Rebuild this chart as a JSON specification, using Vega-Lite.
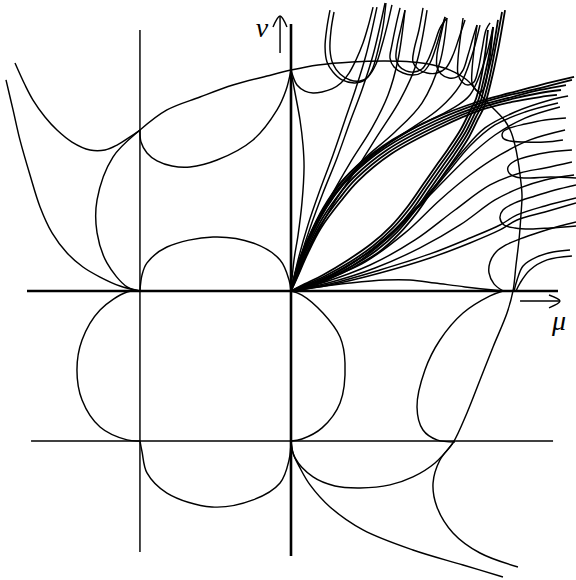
{
  "$schema": "https://vega.github.io/schema/vega-lite/v6.json",
  "width": 576,
  "height": 580,
  "padding": 0,
  "autosize": {"type": "fit", "contains": "padding"},
  "config": {"view": {"stroke": null}},
  "datasets": {
    "axes": [
      {"c": "mu-axis", "mu": -1.76, "nu": 0}, {"c": "mu-axis", "mu": 1.78, "nu": 0},
      {"c": "nu-axis", "mu": 0, "nu": 1.78}, {"c": "nu-axis", "mu": 0, "nu": -1.767}
    ],
    "bands": [
      {"c": "B1a", "mu": 0, "nu": 0}, {"c": "B1a", "mu": 0.033, "nu": 0.107}, {"c": "B1a", "mu": 0.093, "nu": 0.273}, {"c": "B1a", "mu": 0.18, "nu": 0.46}, {"c": "B1a", "mu": 0.293, "nu": 0.64}, {"c": "B1a", "mu": 0.407, "nu": 0.773}, {"c": "B1a", "mu": 0.627, "nu": 0.953}, {"c": "B1a", "mu": 0.96, "nu": 1.133}, {"c": "B1a", "mu": 1.247, "nu": 1.247}, {"c": "B1a", "mu": 1.46, "nu": 1.307}, {"c": "B1a", "mu": 1.66, "nu": 1.353}, {"c": "B1a", "mu": 1.873, "nu": 1.407},
      {"c": "B1b", "mu": 0, "nu": 0}, {"c": "B1b", "mu": 0.033, "nu": 0.1}, {"c": "B1b", "mu": 0.1, "nu": 0.267}, {"c": "B1b", "mu": 0.187, "nu": 0.447}, {"c": "B1b", "mu": 0.307, "nu": 0.627}, {"c": "B1b", "mu": 0.42, "nu": 0.76}, {"c": "B1b", "mu": 0.64, "nu": 0.94}, {"c": "B1b", "mu": 0.973, "nu": 1.12}, {"c": "B1b", "mu": 1.253, "nu": 1.233}, {"c": "B1b", "mu": 1.473, "nu": 1.293}, {"c": "B1b", "mu": 1.66, "nu": 1.34}, {"c": "B1b", "mu": 1.833, "nu": 1.373},
      {"c": "B1c", "mu": 0, "nu": 0}, {"c": "B1c", "mu": 0.04, "nu": 0.093}, {"c": "B1c", "mu": 0.107, "nu": 0.26}, {"c": "B1c", "mu": 0.193, "nu": 0.433}, {"c": "B1c", "mu": 0.32, "nu": 0.613}, {"c": "B1c", "mu": 0.433, "nu": 0.747}, {"c": "B1c", "mu": 0.653, "nu": 0.927}, {"c": "B1c", "mu": 0.987, "nu": 1.107}, {"c": "B1c", "mu": 1.26, "nu": 1.22}, {"c": "B1c", "mu": 1.473, "nu": 1.28}, {"c": "B1c", "mu": 1.66, "nu": 1.32}, {"c": "B1c", "mu": 1.8, "nu": 1.34},
      {"c": "B1d", "mu": 0, "nu": 0}, {"c": "B1d", "mu": 0.04, "nu": 0.087}, {"c": "B1d", "mu": 0.113, "nu": 0.253}, {"c": "B1d", "mu": 0.2, "nu": 0.42}, {"c": "B1d", "mu": 0.333, "nu": 0.6}, {"c": "B1d", "mu": 0.447, "nu": 0.733}, {"c": "B1d", "mu": 0.667, "nu": 0.913}, {"c": "B1d", "mu": 1.0, "nu": 1.093}, {"c": "B1d", "mu": 1.267, "nu": 1.207}, {"c": "B1d", "mu": 1.473, "nu": 1.26}, {"c": "B1d", "mu": 1.66, "nu": 1.293}, {"c": "B1d", "mu": 1.773, "nu": 1.307},
      {"c": "B1e", "mu": 0, "nu": 0}, {"c": "B1e", "mu": 0.027, "nu": 0.113}, {"c": "B1e", "mu": 0.087, "nu": 0.28}, {"c": "B1e", "mu": 0.173, "nu": 0.467}, {"c": "B1e", "mu": 0.28, "nu": 0.647}, {"c": "B1e", "mu": 0.393, "nu": 0.787}, {"c": "B1e", "mu": 0.613, "nu": 0.967}, {"c": "B1e", "mu": 0.947, "nu": 1.147}, {"c": "B1e", "mu": 1.24, "nu": 1.26}, {"c": "B1e", "mu": 1.46, "nu": 1.32}, {"c": "B1e", "mu": 1.66, "nu": 1.373}, {"c": "B1e", "mu": 1.887, "nu": 1.427},

      {"c": "B2a", "mu": 0, "nu": 0}, {"c": "B2a", "mu": 0.093, "nu": 0.033}, {"c": "B2a", "mu": 0.227, "nu": 0.087}, {"c": "B2a", "mu": 0.407, "nu": 0.187}, {"c": "B2a", "mu": 0.56, "nu": 0.287}, {"c": "B2a", "mu": 0.693, "nu": 0.407}, {"c": "B2a", "mu": 0.807, "nu": 0.54}, {"c": "B2a", "mu": 0.913, "nu": 0.693}, {"c": "B2a", "mu": 1.007, "nu": 0.827}, {"c": "B2a", "mu": 1.073, "nu": 0.92}, {"c": "B2a", "mu": 1.16, "nu": 1.053}, {"c": "B2a", "mu": 1.22, "nu": 1.173}, {"c": "B2a", "mu": 1.26, "nu": 1.253}, {"c": "B2a", "mu": 1.3, "nu": 1.407}, {"c": "B2a", "mu": 1.34, "nu": 1.573}, {"c": "B2a", "mu": 1.38, "nu": 1.807},
      {"c": "B2b", "mu": 0, "nu": 0}, {"c": "B2b", "mu": 0.093, "nu": 0.04}, {"c": "B2b", "mu": 0.227, "nu": 0.1}, {"c": "B2b", "mu": 0.393, "nu": 0.193}, {"c": "B2b", "mu": 0.547, "nu": 0.3}, {"c": "B2b", "mu": 0.68, "nu": 0.42}, {"c": "B2b", "mu": 0.793, "nu": 0.553}, {"c": "B2b", "mu": 0.9, "nu": 0.707}, {"c": "B2b", "mu": 0.993, "nu": 0.84}, {"c": "B2b", "mu": 1.06, "nu": 0.933}, {"c": "B2b", "mu": 1.147, "nu": 1.067}, {"c": "B2b", "mu": 1.207, "nu": 1.187}, {"c": "B2b", "mu": 1.247, "nu": 1.267}, {"c": "B2b", "mu": 1.287, "nu": 1.42}, {"c": "B2b", "mu": 1.32, "nu": 1.573}, {"c": "B2b", "mu": 1.347, "nu": 1.76},
      {"c": "B2c", "mu": 0, "nu": 0}, {"c": "B2c", "mu": 0.093, "nu": 0.047}, {"c": "B2c", "mu": 0.213, "nu": 0.107}, {"c": "B2c", "mu": 0.38, "nu": 0.207}, {"c": "B2c", "mu": 0.533, "nu": 0.313}, {"c": "B2c", "mu": 0.667, "nu": 0.433}, {"c": "B2c", "mu": 0.78, "nu": 0.567}, {"c": "B2c", "mu": 0.887, "nu": 0.72}, {"c": "B2c", "mu": 0.98, "nu": 0.853}, {"c": "B2c", "mu": 1.047, "nu": 0.947}, {"c": "B2c", "mu": 1.133, "nu": 1.08}, {"c": "B2c", "mu": 1.193, "nu": 1.2}, {"c": "B2c", "mu": 1.233, "nu": 1.28}, {"c": "B2c", "mu": 1.267, "nu": 1.42}, {"c": "B2c", "mu": 1.293, "nu": 1.573}, {"c": "B2c", "mu": 1.313, "nu": 1.74},
      {"c": "B2d", "mu": 0, "nu": 0}, {"c": "B2d", "mu": 0.1, "nu": 0.027}, {"c": "B2d", "mu": 0.233, "nu": 0.08}, {"c": "B2d", "mu": 0.42, "nu": 0.173}, {"c": "B2d", "mu": 0.573, "nu": 0.273}, {"c": "B2d", "mu": 0.707, "nu": 0.393}, {"c": "B2d", "mu": 0.82, "nu": 0.527}, {"c": "B2d", "mu": 0.927, "nu": 0.68}, {"c": "B2d", "mu": 1.02, "nu": 0.813}, {"c": "B2d", "mu": 1.087, "nu": 0.907}, {"c": "B2d", "mu": 1.173, "nu": 1.04}, {"c": "B2d", "mu": 1.233, "nu": 1.16}, {"c": "B2d", "mu": 1.273, "nu": 1.24}, {"c": "B2d", "mu": 1.32, "nu": 1.407}, {"c": "B2d", "mu": 1.36, "nu": 1.607}, {"c": "B2d", "mu": 1.407, "nu": 1.86},
      {"c": "B2e", "mu": 0, "nu": 0}, {"c": "B2e", "mu": 0.1, "nu": 0.02}, {"c": "B2e", "mu": 0.24, "nu": 0.073}, {"c": "B2e", "mu": 0.433, "nu": 0.167}, {"c": "B2e", "mu": 0.587, "nu": 0.26}, {"c": "B2e", "mu": 0.72, "nu": 0.38}, {"c": "B2e", "mu": 0.833, "nu": 0.513}, {"c": "B2e", "mu": 0.94, "nu": 0.667}, {"c": "B2e", "mu": 1.033, "nu": 0.8}, {"c": "B2e", "mu": 1.1, "nu": 0.893}, {"c": "B2e", "mu": 1.187, "nu": 1.027}, {"c": "B2e", "mu": 1.247, "nu": 1.147}, {"c": "B2e", "mu": 1.287, "nu": 1.227}, {"c": "B2e", "mu": 1.333, "nu": 1.393}, {"c": "B2e", "mu": 1.38, "nu": 1.607}, {"c": "B2e", "mu": 1.427, "nu": 1.873}
    ],
    "curves": [
      {"c": "L1", "mu": -1.007, "nu": 1.74}, {"c": "L1", "mu": -1.007, "nu": -1.74},
      {"c": "L2", "mu": -1.733, "nu": -1.0}, {"c": "L2", "mu": 1.747, "nu": -1.0},

      {"c": "nuArrow", "mu": -0.073, "nu": 1.587}, {"c": "nuArrow", "mu": -0.073, "nu": 1.833},
      {"c": "nuHead", "mu": -0.12, "nu": 1.76}, {"c": "nuHead", "mu": -0.073, "nu": 1.833}, {"c": "nuHead", "mu": -0.027, "nu": 1.76},
      {"c": "muArrow", "mu": 1.527, "nu": -0.067}, {"c": "muArrow", "mu": 1.793, "nu": -0.067},
      {"c": "muHead", "mu": 1.72, "nu": -0.027}, {"c": "muHead", "mu": 1.793, "nu": -0.067}, {"c": "muHead", "mu": 1.72, "nu": -0.113},

      {"c": "C1", "mu": -1.007, "nu": 0}, {"c": "C1", "mu": -1.093, "nu": -0.007}, {"c": "C1", "mu": -1.273, "nu": -0.127}, {"c": "C1", "mu": -1.393, "nu": -0.327}, {"c": "C1", "mu": -1.427, "nu": -0.527}, {"c": "C1", "mu": -1.393, "nu": -0.727}, {"c": "C1", "mu": -1.273, "nu": -0.907}, {"c": "C1", "mu": -1.093, "nu": -0.993}, {"c": "C1", "mu": -1.007, "nu": -1.0},

      {"c": "C2", "mu": -1.007, "nu": -1.0}, {"c": "C2", "mu": -0.993, "nu": -1.073}, {"c": "C2", "mu": -0.96, "nu": -1.213}, {"c": "C2", "mu": -0.827, "nu": -1.347}, {"c": "C2", "mu": -0.527, "nu": -1.44}, {"c": "C2", "mu": -0.253, "nu": -1.393}, {"c": "C2", "mu": -0.073, "nu": -1.28}, {"c": "C2", "mu": -0.013, "nu": -1.127}, {"c": "C2", "mu": 0, "nu": -1.0},

      {"c": "C3", "mu": -1.007, "nu": 0}, {"c": "C3", "mu": -0.993, "nu": 0.107}, {"c": "C3", "mu": -0.96, "nu": 0.187}, {"c": "C3", "mu": -0.827, "nu": 0.293}, {"c": "C3", "mu": -0.52, "nu": 0.36}, {"c": "C3", "mu": -0.253, "nu": 0.32}, {"c": "C3", "mu": -0.073, "nu": 0.207}, {"c": "C3", "mu": -0.013, "nu": 0.073}, {"c": "C3", "mu": 0, "nu": 0},

      {"c": "C4", "mu": 0, "nu": 0}, {"c": "C4", "mu": 0.073, "nu": -0.027}, {"c": "C4", "mu": 0.213, "nu": -0.147}, {"c": "C4", "mu": 0.327, "nu": -0.307}, {"c": "C4", "mu": 0.36, "nu": -0.48}, {"c": "C4", "mu": 0.327, "nu": -0.747}, {"c": "C4", "mu": 0.207, "nu": -0.913}, {"c": "C4", "mu": 0.073, "nu": -0.987}, {"c": "C4", "mu": 0, "nu": -1.0},

      {"c": "C5", "mu": 1.413, "nu": 0}, {"c": "C5", "mu": 1.327, "nu": -0.033}, {"c": "C5", "mu": 1.147, "nu": -0.147}, {"c": "C5", "mu": 0.993, "nu": -0.327}, {"c": "C5", "mu": 0.893, "nu": -0.527}, {"c": "C5", "mu": 0.84, "nu": -0.773}, {"c": "C5", "mu": 0.88, "nu": -0.927}, {"c": "C5", "mu": 0.973, "nu": -0.993}, {"c": "C5", "mu": 1.093, "nu": -1.007},

      {"c": "C6", "mu": -1.007, "nu": 0}, {"c": "C6", "mu": -1.093, "nu": 0.027}, {"c": "C6", "mu": -1.227, "nu": 0.187}, {"c": "C6", "mu": -1.293, "nu": 0.387}, {"c": "C6", "mu": -1.293, "nu": 0.607}, {"c": "C6", "mu": -1.187, "nu": 0.893}, {"c": "C6", "mu": -1.007, "nu": 1.073}, {"c": "C6", "mu": -0.827, "nu": 1.207}, {"c": "C6", "mu": -0.607, "nu": 1.293}, {"c": "C6", "mu": -0.387, "nu": 1.373}, {"c": "C6", "mu": -0.16, "nu": 1.433}, {"c": "C6", "mu": 0, "nu": 1.473}, {"c": "C6", "mu": 0.18, "nu": 1.507}, {"c": "C6", "mu": 0.407, "nu": 1.527}, {"c": "C6", "mu": 0.627, "nu": 1.533}, {"c": "C6", "mu": 0.807, "nu": 1.527}, {"c": "C6", "mu": 0.947, "nu": 1.507}, {"c": "C6", "mu": 1.06, "nu": 1.473}, {"c": "C6", "mu": 1.173, "nu": 1.407}, {"c": "C6", "mu": 1.24, "nu": 1.333}, {"c": "C6", "mu": 1.307, "nu": 1.26}, {"c": "C6", "mu": 1.373, "nu": 1.193}, {"c": "C6", "mu": 1.427, "nu": 1.133}, {"c": "C6", "mu": 1.467, "nu": 1.06}, {"c": "C6", "mu": 1.493, "nu": 0.973}, {"c": "C6", "mu": 1.513, "nu": 0.873}, {"c": "C6", "mu": 1.527, "nu": 0.773}, {"c": "C6", "mu": 1.54, "nu": 0.64}, {"c": "C6", "mu": 1.533, "nu": 0.507}, {"c": "C6", "mu": 1.52, "nu": 0.34}, {"c": "C6", "mu": 1.5, "nu": 0.173}, {"c": "C6", "mu": 1.48, "nu": 0}, {"c": "C6", "mu": 1.44, "nu": -0.147}, {"c": "C6", "mu": 1.347, "nu": -0.373}, {"c": "C6", "mu": 1.26, "nu": -0.593}, {"c": "C6", "mu": 1.173, "nu": -0.813}, {"c": "C6", "mu": 1.08, "nu": -1.013}, {"c": "C6", "mu": 0.993, "nu": -1.127}, {"c": "C6", "mu": 0.947, "nu": -1.28}, {"c": "C6", "mu": 0.973, "nu": -1.44}, {"c": "C6", "mu": 1.08, "nu": -1.613}, {"c": "C6", "mu": 1.26, "nu": -1.747}, {"c": "C6", "mu": 1.513, "nu": -1.84},

      {"c": "C7", "mu": 0, "nu": -1.0}, {"c": "C7", "mu": 0.013, "nu": -1.08}, {"c": "C7", "mu": 0.06, "nu": -1.18}, {"c": "C7", "mu": 0.127, "nu": -1.293}, {"c": "C7", "mu": 0.26, "nu": -1.44}, {"c": "C7", "mu": 0.48, "nu": -1.593}, {"c": "C7", "mu": 0.813, "nu": -1.727}, {"c": "C7", "mu": 1.147, "nu": -1.827}, {"c": "C7", "mu": 1.413, "nu": -1.907},

      {"c": "C8", "mu": 0, "nu": -1.0}, {"c": "C8", "mu": 0.027, "nu": -1.113}, {"c": "C8", "mu": 0.147, "nu": -1.24}, {"c": "C8", "mu": 0.293, "nu": -1.3}, {"c": "C8", "mu": 0.46, "nu": -1.313}, {"c": "C8", "mu": 0.66, "nu": -1.293}, {"c": "C8", "mu": 0.813, "nu": -1.24}, {"c": "C8", "mu": 0.96, "nu": -1.147}, {"c": "C8", "mu": 1.08, "nu": -1.013},

      {"c": "C9", "mu": -1.84, "nu": 1.52}, {"c": "C9", "mu": -1.773, "nu": 1.373}, {"c": "C9", "mu": -1.72, "nu": 1.273}, {"c": "C9", "mu": -1.64, "nu": 1.16}, {"c": "C9", "mu": -1.56, "nu": 1.073}, {"c": "C9", "mu": -1.46, "nu": 0.993}, {"c": "C9", "mu": -1.34, "nu": 0.94}, {"c": "C9", "mu": -1.24, "nu": 0.94}, {"c": "C9", "mu": -1.16, "nu": 0.973}, {"c": "C9", "mu": -1.073, "nu": 1.027}, {"c": "C9", "mu": -1.007, "nu": 1.073},

      {"c": "C10", "mu": -1.9, "nu": 1.407}, {"c": "C10", "mu": -1.853, "nu": 1.207}, {"c": "C10", "mu": -1.807, "nu": 1.007}, {"c": "C10", "mu": -1.74, "nu": 0.773}, {"c": "C10", "mu": -1.673, "nu": 0.56}, {"c": "C10", "mu": -1.593, "nu": 0.387}, {"c": "C10", "mu": -1.493, "nu": 0.253}, {"c": "C10", "mu": -1.387, "nu": 0.16}, {"c": "C10", "mu": -1.273, "nu": 0.093}, {"c": "C10", "mu": -1.14, "nu": 0.033}, {"c": "C10", "mu": -1.007, "nu": 0},

      {"c": "C11", "mu": -1.007, "nu": 1.073}, {"c": "C11", "mu": -1.0, "nu": 0.993}, {"c": "C11", "mu": -0.96, "nu": 0.92}, {"c": "C11", "mu": -0.893, "nu": 0.867}, {"c": "C11", "mu": -0.793, "nu": 0.833}, {"c": "C11", "mu": -0.673, "nu": 0.827}, {"c": "C11", "mu": -0.493, "nu": 0.873}, {"c": "C11", "mu": -0.253, "nu": 1.007}, {"c": "C11", "mu": -0.093, "nu": 1.207}, {"c": "C11", "mu": -0.033, "nu": 1.34}, {"c": "C11", "mu": 0, "nu": 1.473},

      {"c": "C12", "mu": 0, "nu": 1.46}, {"c": "C12", "mu": 0.027, "nu": 1.32}, {"c": "C12", "mu": 0.06, "nu": 1.14}, {"c": "C12", "mu": 0.08, "nu": 0.973}, {"c": "C12", "mu": 0.087, "nu": 0.827}, {"c": "C12", "mu": 0.073, "nu": 0.587}, {"c": "C12", "mu": 0.047, "nu": 0.373}, {"c": "C12", "mu": 0.02, "nu": 0.207}, {"c": "C12", "mu": 0, "nu": 0},

      {"c": "F1", "mu": 0, "nu": 0}, {"c": "F1", "mu": 0.047, "nu": 0.207}, {"c": "F1", "mu": 0.113, "nu": 0.44}, {"c": "F1", "mu": 0.193, "nu": 0.673}, {"c": "F1", "mu": 0.28, "nu": 0.907}, {"c": "F1", "mu": 0.36, "nu": 1.14}, {"c": "F1", "mu": 0.433, "nu": 1.353}, {"c": "F1", "mu": 0.5, "nu": 1.573}, {"c": "F1", "mu": 0.573, "nu": 1.893},
      {"c": "F2", "mu": 0, "nu": 0}, {"c": "F2", "mu": 0.053, "nu": 0.193}, {"c": "F2", "mu": 0.127, "nu": 0.42}, {"c": "F2", "mu": 0.213, "nu": 0.653}, {"c": "F2", "mu": 0.307, "nu": 0.887}, {"c": "F2", "mu": 0.393, "nu": 1.127}, {"c": "F2", "mu": 0.473, "nu": 1.34}, {"c": "F2", "mu": 0.547, "nu": 1.573}, {"c": "F2", "mu": 0.627, "nu": 1.92},
      {"c": "F3", "mu": 0, "nu": 0}, {"c": "F3", "mu": 0.06, "nu": 0.187}, {"c": "F3", "mu": 0.147, "nu": 0.393}, {"c": "F3", "mu": 0.26, "nu": 0.62}, {"c": "F3", "mu": 0.393, "nu": 0.853}, {"c": "F3", "mu": 0.54, "nu": 1.087}, {"c": "F3", "mu": 0.647, "nu": 1.307}, {"c": "F3", "mu": 0.713, "nu": 1.54}, {"c": "F3", "mu": 0.76, "nu": 1.873},
      {"c": "F4", "mu": 0, "nu": 0}, {"c": "F4", "mu": 0.067, "nu": 0.173}, {"c": "F4", "mu": 0.167, "nu": 0.373}, {"c": "F4", "mu": 0.287, "nu": 0.587}, {"c": "F4", "mu": 0.433, "nu": 0.807}, {"c": "F4", "mu": 0.58, "nu": 1.04}, {"c": "F4", "mu": 0.727, "nu": 1.273}, {"c": "F4", "mu": 0.833, "nu": 1.507}, {"c": "F4", "mu": 0.907, "nu": 1.873},
      {"c": "F5", "mu": 0, "nu": 0}, {"c": "F5", "mu": 0.047, "nu": 0.187}, {"c": "F5", "mu": 0.12, "nu": 0.367}, {"c": "F5", "mu": 0.213, "nu": 0.553}, {"c": "F5", "mu": 0.333, "nu": 0.727}, {"c": "F5", "mu": 0.5, "nu": 0.893}, {"c": "F5", "mu": 0.693, "nu": 1.06}, {"c": "F5", "mu": 0.873, "nu": 1.253}, {"c": "F5", "mu": 0.993, "nu": 1.527}, {"c": "F5", "mu": 1.04, "nu": 1.82},
      {"c": "F6", "mu": 0, "nu": 0}, {"c": "F6", "mu": 0.04, "nu": 0.14}, {"c": "F6", "mu": 0.1, "nu": 0.293}, {"c": "F6", "mu": 0.167, "nu": 0.46}, {"c": "F6", "mu": 0.28, "nu": 0.633}, {"c": "F6", "mu": 0.4, "nu": 0.78}, {"c": "F6", "mu": 0.593, "nu": 0.947}, {"c": "F6", "mu": 0.807, "nu": 1.087}, {"c": "F6", "mu": 0.993, "nu": 1.22}, {"c": "F6", "mu": 1.127, "nu": 1.373}, {"c": "F6", "mu": 1.207, "nu": 1.573}, {"c": "F6", "mu": 1.26, "nu": 1.773},
      {"c": "F7", "mu": 0, "nu": 0}, {"c": "F7", "mu": 0.033, "nu": 0.127}, {"c": "F7", "mu": 0.093, "nu": 0.28}, {"c": "F7", "mu": 0.173, "nu": 0.453}, {"c": "F7", "mu": 0.287, "nu": 0.633}, {"c": "F7", "mu": 0.407, "nu": 0.78}, {"c": "F7", "mu": 0.62, "nu": 0.96}, {"c": "F7", "mu": 0.86, "nu": 1.107}, {"c": "F7", "mu": 1.06, "nu": 1.207}, {"c": "F7", "mu": 1.193, "nu": 1.307}, {"c": "F7", "mu": 1.293, "nu": 1.54}, {"c": "F7", "mu": 1.347, "nu": 1.76},

      {"c": "H1", "mu": 0, "nu": 1.473}, {"c": "H1", "mu": 0.04, "nu": 1.373}, {"c": "H1", "mu": 0.093, "nu": 1.333}, {"c": "H1", "mu": 0.147, "nu": 1.32}, {"c": "H1", "mu": 0.207, "nu": 1.327}, {"c": "H1", "mu": 0.273, "nu": 1.347}, {"c": "H1", "mu": 0.333, "nu": 1.387}, {"c": "H1", "mu": 0.387, "nu": 1.453}, {"c": "H1", "mu": 0.433, "nu": 1.54}, {"c": "H1", "mu": 0.48, "nu": 1.653}, {"c": "H1", "mu": 0.513, "nu": 1.76}, {"c": "H1", "mu": 0.547, "nu": 1.893},
      {"c": "H2", "mu": 0.26, "nu": 1.873}, {"c": "H2", "mu": 0.24, "nu": 1.76}, {"c": "H2", "mu": 0.227, "nu": 1.627}, {"c": "H2", "mu": 0.24, "nu": 1.527}, {"c": "H2", "mu": 0.28, "nu": 1.46}, {"c": "H2", "mu": 0.34, "nu": 1.407}, {"c": "H2", "mu": 0.427, "nu": 1.387}, {"c": "H2", "mu": 0.493, "nu": 1.407}, {"c": "H2", "mu": 0.54, "nu": 1.473}, {"c": "H2", "mu": 0.58, "nu": 1.607}, {"c": "H2", "mu": 0.613, "nu": 1.76}, {"c": "H2", "mu": 0.633, "nu": 1.92},
      {"c": "H2b", "mu": 0.287, "nu": 1.86}, {"c": "H2b", "mu": 0.267, "nu": 1.74}, {"c": "H2b", "mu": 0.26, "nu": 1.607}, {"c": "H2b", "mu": 0.28, "nu": 1.513}, {"c": "H2b", "mu": 0.327, "nu": 1.447}, {"c": "H2b", "mu": 0.393, "nu": 1.407}, {"c": "H2b", "mu": 0.46, "nu": 1.4}, {"c": "H2b", "mu": 0.513, "nu": 1.427}, {"c": "H2b", "mu": 0.567, "nu": 1.513}, {"c": "H2b", "mu": 0.607, "nu": 1.64}, {"c": "H2b", "mu": 0.647, "nu": 1.793}, {"c": "H2b", "mu": 0.673, "nu": 1.907},
      {"c": "H3", "mu": 0.727, "nu": 1.887}, {"c": "H3", "mu": 0.7, "nu": 1.773}, {"c": "H3", "mu": 0.673, "nu": 1.64}, {"c": "H3", "mu": 0.66, "nu": 1.553}, {"c": "H3", "mu": 0.687, "nu": 1.493}, {"c": "H3", "mu": 0.747, "nu": 1.453}, {"c": "H3", "mu": 0.813, "nu": 1.44}, {"c": "H3", "mu": 0.88, "nu": 1.46}, {"c": "H3", "mu": 0.927, "nu": 1.52}, {"c": "H3", "mu": 0.967, "nu": 1.627}, {"c": "H3", "mu": 1.0, "nu": 1.74}, {"c": "H3", "mu": 1.027, "nu": 1.827},
      {"c": "H3b", "mu": 0.76, "nu": 1.873}, {"c": "H3b", "mu": 0.733, "nu": 1.753}, {"c": "H3b", "mu": 0.707, "nu": 1.633}, {"c": "H3b", "mu": 0.7, "nu": 1.553}, {"c": "H3b", "mu": 0.72, "nu": 1.5}, {"c": "H3b", "mu": 0.767, "nu": 1.467}, {"c": "H3b", "mu": 0.82, "nu": 1.46}, {"c": "H3b", "mu": 0.873, "nu": 1.48}, {"c": "H3b", "mu": 0.913, "nu": 1.54}, {"c": "H3b", "mu": 0.953, "nu": 1.64}, {"c": "H3b", "mu": 0.993, "nu": 1.753}, {"c": "H3b", "mu": 1.04, "nu": 1.82},
      {"c": "H4", "mu": 0.88, "nu": 1.887}, {"c": "H4", "mu": 0.853, "nu": 1.74}, {"c": "H4", "mu": 0.82, "nu": 1.607}, {"c": "H4", "mu": 0.813, "nu": 1.527}, {"c": "H4", "mu": 0.847, "nu": 1.48}, {"c": "H4", "mu": 0.907, "nu": 1.453}, {"c": "H4", "mu": 0.973, "nu": 1.453}, {"c": "H4", "mu": 1.033, "nu": 1.487}, {"c": "H4", "mu": 1.08, "nu": 1.573}, {"c": "H4", "mu": 1.12, "nu": 1.687}, {"c": "H4", "mu": 1.16, "nu": 1.807},
      {"c": "H5", "mu": 1.027, "nu": 1.827}, {"c": "H5", "mu": 1.0, "nu": 1.707}, {"c": "H5", "mu": 0.973, "nu": 1.573}, {"c": "H5", "mu": 0.973, "nu": 1.493}, {"c": "H5", "mu": 1.0, "nu": 1.447}, {"c": "H5", "mu": 1.053, "nu": 1.42}, {"c": "H5", "mu": 1.107, "nu": 1.427}, {"c": "H5", "mu": 1.147, "nu": 1.473}, {"c": "H5", "mu": 1.18, "nu": 1.573}, {"c": "H5", "mu": 1.213, "nu": 1.687}, {"c": "H5", "mu": 1.24, "nu": 1.773},
      {"c": "H6", "mu": 1.147, "nu": 1.82}, {"c": "H6", "mu": 1.127, "nu": 1.673}, {"c": "H6", "mu": 1.113, "nu": 1.54}, {"c": "H6", "mu": 1.113, "nu": 1.447}, {"c": "H6", "mu": 1.14, "nu": 1.393}, {"c": "H6", "mu": 1.18, "nu": 1.373}, {"c": "H6", "mu": 1.22, "nu": 1.393}, {"c": "H6", "mu": 1.247, "nu": 1.473}, {"c": "H6", "mu": 1.273, "nu": 1.607}, {"c": "H6", "mu": 1.3, "nu": 1.74}, {"c": "H6", "mu": 1.327, "nu": 1.787},
      {"c": "H7", "mu": 1.24, "nu": 1.773}, {"c": "H7", "mu": 1.22, "nu": 1.607}, {"c": "H7", "mu": 1.207, "nu": 1.473}, {"c": "H7", "mu": 1.207, "nu": 1.387}, {"c": "H7", "mu": 1.233, "nu": 1.34}, {"c": "H7", "mu": 1.267, "nu": 1.327}, {"c": "H7", "mu": 1.293, "nu": 1.367}, {"c": "H7", "mu": 1.313, "nu": 1.473}, {"c": "H7", "mu": 1.333, "nu": 1.607}, {"c": "H7", "mu": 1.347, "nu": 1.76},

      {"c": "G0a", "mu": 0, "nu": 0}, {"c": "G0a", "mu": 0.16, "nu": 0.053}, {"c": "G0a", "mu": 0.36, "nu": 0.153}, {"c": "G0a", "mu": 0.593, "nu": 0.32}, {"c": "G0a", "mu": 0.807, "nu": 0.527}, {"c": "G0a", "mu": 0.993, "nu": 0.74}, {"c": "G0a", "mu": 1.14, "nu": 0.927}, {"c": "G0a", "mu": 1.293, "nu": 1.087}, {"c": "G0a", "mu": 1.493, "nu": 1.193}, {"c": "G0a", "mu": 1.727, "nu": 1.273}, {"c": "G0a", "mu": 1.847, "nu": 1.3},
      {"c": "G0b", "mu": 0, "nu": 0}, {"c": "G0b", "mu": 0.18, "nu": 0.047}, {"c": "G0b", "mu": 0.407, "nu": 0.167}, {"c": "G0b", "mu": 0.647, "nu": 0.353}, {"c": "G0b", "mu": 0.86, "nu": 0.573}, {"c": "G0b", "mu": 1.047, "nu": 0.793}, {"c": "G0b", "mu": 1.193, "nu": 0.967}, {"c": "G0b", "mu": 1.36, "nu": 1.107}, {"c": "G0b", "mu": 1.56, "nu": 1.193}, {"c": "G0b", "mu": 1.78, "nu": 1.253},
      {"c": "G1", "mu": 0, "nu": 0}, {"c": "G1", "mu": 0.193, "nu": 0.073}, {"c": "G1", "mu": 0.46, "nu": 0.22}, {"c": "G1", "mu": 0.727, "nu": 0.44}, {"c": "G1", "mu": 0.96, "nu": 0.673}, {"c": "G1", "mu": 1.16, "nu": 0.873}, {"c": "G1", "mu": 1.36, "nu": 1.04}, {"c": "G1", "mu": 1.56, "nu": 1.153}, {"c": "G1", "mu": 1.793, "nu": 1.227},
      {"c": "G2", "mu": 0, "nu": 0}, {"c": "G2", "mu": 0.207, "nu": 0.067}, {"c": "G2", "mu": 0.493, "nu": 0.193}, {"c": "G2", "mu": 0.76, "nu": 0.387}, {"c": "G2", "mu": 0.993, "nu": 0.607}, {"c": "G2", "mu": 1.193, "nu": 0.773}, {"c": "G2", "mu": 1.393, "nu": 0.907}, {"c": "G2", "mu": 1.593, "nu": 1.007}, {"c": "G2", "mu": 1.827, "nu": 1.073},
      {"c": "G3", "mu": 0, "nu": 0}, {"c": "G3", "mu": 0.227, "nu": 0.06}, {"c": "G3", "mu": 0.527, "nu": 0.173}, {"c": "G3", "mu": 0.827, "nu": 0.34}, {"c": "G3", "mu": 1.093, "nu": 0.54}, {"c": "G3", "mu": 1.327, "nu": 0.707}, {"c": "G3", "mu": 1.527, "nu": 0.787}, {"c": "G3", "mu": 1.693, "nu": 0.82}, {"c": "G3", "mu": 1.873, "nu": 0.86},
      {"c": "G4", "mu": 0, "nu": 0}, {"c": "G4", "mu": 0.247, "nu": 0.053}, {"c": "G4", "mu": 0.56, "nu": 0.153}, {"c": "G4", "mu": 0.86, "nu": 0.287}, {"c": "G4", "mu": 1.127, "nu": 0.44}, {"c": "G4", "mu": 1.36, "nu": 0.607}, {"c": "G4", "mu": 1.527, "nu": 0.687}, {"c": "G4", "mu": 1.693, "nu": 0.74}, {"c": "G4", "mu": 1.887, "nu": 0.773},
      {"c": "G5", "mu": 0, "nu": 0}, {"c": "G5", "mu": 0.26, "nu": 0.047}, {"c": "G5", "mu": 0.593, "nu": 0.14}, {"c": "G5", "mu": 0.927, "nu": 0.247}, {"c": "G5", "mu": 1.193, "nu": 0.353}, {"c": "G5", "mu": 1.393, "nu": 0.44}, {"c": "G5", "mu": 1.507, "nu": 0.507}, {"c": "G5", "mu": 1.693, "nu": 0.567}, {"c": "G5", "mu": 1.9, "nu": 0.62},
      {"c": "G6", "mu": 0, "nu": 0}, {"c": "G6", "mu": 0.26, "nu": 0.04}, {"c": "G6", "mu": 0.593, "nu": 0.12}, {"c": "G6", "mu": 0.927, "nu": 0.22}, {"c": "G6", "mu": 1.193, "nu": 0.32}, {"c": "G6", "mu": 1.393, "nu": 0.407}, {"c": "G6", "mu": 1.507, "nu": 0.473}, {"c": "G6", "mu": 1.693, "nu": 0.527}, {"c": "G6", "mu": 1.9, "nu": 0.587},
      {"c": "G7", "mu": 0, "nu": 0}, {"c": "G7", "mu": 0.18, "nu": 0.027}, {"c": "G7", "mu": 0.393, "nu": 0.053}, {"c": "G7", "mu": 0.627, "nu": 0.073}, {"c": "G7", "mu": 0.793, "nu": 0.073}, {"c": "G7", "mu": 0.96, "nu": 0.053}, {"c": "G7", "mu": 1.16, "nu": 0.027}, {"c": "G7", "mu": 1.413, "nu": 0},

      {"c": "V1", "mu": 1.833, "nu": 1.153}, {"c": "V1", "mu": 1.693, "nu": 1.14}, {"c": "V1", "mu": 1.56, "nu": 1.113}, {"c": "V1", "mu": 1.46, "nu": 1.087}, {"c": "V1", "mu": 1.413, "nu": 1.06}, {"c": "V1", "mu": 1.413, "nu": 1.02}, {"c": "V1", "mu": 1.46, "nu": 1.0}, {"c": "V1", "mu": 1.56, "nu": 0.993}, {"c": "V1", "mu": 1.693, "nu": 0.993}, {"c": "V1", "mu": 1.813, "nu": 1.007},
      {"c": "V2", "mu": 1.873, "nu": 0.94}, {"c": "V2", "mu": 1.727, "nu": 0.927}, {"c": "V2", "mu": 1.593, "nu": 0.9}, {"c": "V2", "mu": 1.493, "nu": 0.867}, {"c": "V2", "mu": 1.447, "nu": 0.827}, {"c": "V2", "mu": 1.453, "nu": 0.787}, {"c": "V2", "mu": 1.5, "nu": 0.76}, {"c": "V2", "mu": 1.593, "nu": 0.753}, {"c": "V2", "mu": 1.727, "nu": 0.76}, {"c": "V2", "mu": 1.9, "nu": 0.753},
      {"c": "V3", "mu": 1.9, "nu": 0.707}, {"c": "V3", "mu": 1.76, "nu": 0.673}, {"c": "V3", "mu": 1.627, "nu": 0.633}, {"c": "V3", "mu": 1.493, "nu": 0.587}, {"c": "V3", "mu": 1.413, "nu": 0.54}, {"c": "V3", "mu": 1.393, "nu": 0.487}, {"c": "V3", "mu": 1.42, "nu": 0.44}, {"c": "V3", "mu": 1.493, "nu": 0.42}, {"c": "V3", "mu": 1.593, "nu": 0.413}, {"c": "V3", "mu": 1.727, "nu": 0.42}, {"c": "V3", "mu": 1.9, "nu": 0.433},
      {"c": "V5", "mu": 1.413, "nu": 0}, {"c": "V5", "mu": 1.353, "nu": 0.047}, {"c": "V5", "mu": 1.32, "nu": 0.12}, {"c": "V5", "mu": 1.327, "nu": 0.193}, {"c": "V5", "mu": 1.367, "nu": 0.26}, {"c": "V5", "mu": 1.433, "nu": 0.307}, {"c": "V5", "mu": 1.527, "nu": 0.347}, {"c": "V5", "mu": 1.66, "nu": 0.393}, {"c": "V5", "mu": 1.793, "nu": 0.433}, {"c": "V5", "mu": 1.9, "nu": 0.46},
      {"c": "V6", "mu": 1.86, "nu": 0.273}, {"c": "V6", "mu": 1.747, "nu": 0.26}, {"c": "V6", "mu": 1.64, "nu": 0.227}, {"c": "V6", "mu": 1.547, "nu": 0.167}, {"c": "V6", "mu": 1.507, "nu": 0.073}, {"c": "V6", "mu": 1.487, "nu": 0},
      {"c": "V7", "mu": 1.873, "nu": 0.233}, {"c": "V7", "mu": 1.707, "nu": 0.207}, {"c": "V7", "mu": 1.593, "nu": 0.14}, {"c": "V7", "mu": 1.527, "nu": 0.053}, {"c": "V7", "mu": 1.5, "nu": 0}
    ],
    "labels": [
      {"t": "ν", "mu": -0.193, "nu": 1.693},
      {"t": "μ", "mu": 1.787, "nu": -0.26}
    ]
  },
  "encoding": {
    "x": {"field": "mu", "type": "quantitative", "scale": {"domain": [-1.94, 1.9], "nice": false, "zero": false}, "axis": null},
    "y": {"field": "nu", "type": "quantitative", "scale": {"domain": [-1.927, 1.94], "nice": false, "zero": false}, "axis": null}
  },
  "layer": [
    {
      "data": {"name": "curves"},
      "mark": {"type": "line", "stroke": "black", "strokeWidth": 1.45, "interpolate": "catmull-rom", "clip": true},
      "encoding": {"detail": {"field": "c", "type": "nominal"}, "order": {"value": null}}
    },
    {
      "data": {"name": "bands"},
      "mark": {"type": "line", "stroke": "black", "strokeWidth": 1.8, "interpolate": "catmull-rom", "clip": true},
      "encoding": {"detail": {"field": "c", "type": "nominal"}, "order": {"value": null}}
    },
    {
      "data": {"name": "axes"},
      "mark": {"type": "line", "stroke": "black", "strokeWidth": 2.6},
      "encoding": {"detail": {"field": "c", "type": "nominal"}, "order": {"value": null}}
    },
    {
      "data": {"name": "labels"},
      "mark": {"type": "text", "font": "Liberation Serif", "fontStyle": "italic", "fontSize": 28, "align": "center", "baseline": "alphabetic", "color": "black"},
      "encoding": {"text": {"field": "t", "type": "nominal"}}
    }
  ]
}
